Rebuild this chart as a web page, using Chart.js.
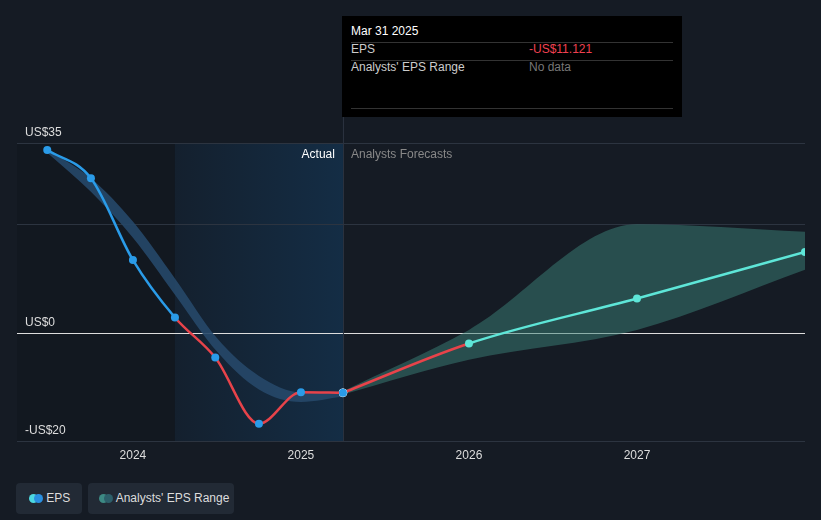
<!DOCTYPE html><html><head><meta charset="utf-8">
<script src="https://cdn.jsdelivr.net/npm/chart.js@4"></script>
<style>
body{margin:0;background:#151b24;font-family:Arial,"Liberation Sans",sans-serif;}
#w{position:relative;width:821px;height:520px;}
#tip{position:absolute;left:342px;top:16px;width:340px;height:101px;background:#000;color:#ccc;font-size:12px;}
.r{position:absolute;left:9px;right:9px;height:18px;border-bottom:1px solid #333;}
.leg{position:absolute;top:483px;height:31px;background:#222a35;border-radius:4px;color:#ddd;font-size:12px;line-height:31px;}
.dot{display:inline-block;width:9px;height:9px;border-radius:5px;vertical-align:middle;}
</style></head><body><div id="w"><canvas id="c" width="821" height="520"></canvas>
<div id="tip">
<div class="r" style="top:8px;color:#fff;font-size:12px;">Mar 31 2025</div>
<div class="r" style="top:26px;">EPS<span style="position:absolute;left:178px;color:#f04050">-US$11.121</span></div>
<div class="r" style="top:44px;border:none">Analysts' EPS Range<span style="position:absolute;left:178px;color:#777">No data</span></div>
<div class="r" style="top:75px;height:17px"></div>
</div>
<div class="leg" style="left:16px;width:66px;"><span style="margin-left:13px"><span class="dot" style="background:#4dd8e0"></span><span class="dot" style="background:#2a8fe0;margin-left:-4px"></span></span> EPS</div>
<div class="leg" style="left:88px;width:146px;"><span style="margin-left:11px"><span class="dot" style="background:#3d8a84"></span><span class="dot" style="background:#2d5f6a;margin-left:-4px"></span></span> Analysts' EPS Range</div>
</div>
<script>
const pastX=[2023.49,2023.75,2024.0,2024.25,2024.49,2024.75,2025.0,2025.25];
const pastEPS=[33.7,28.5,13.4,2.8,-4.6,-16.8,-11.0,-11.1];
const fcX=[2025.25,2026.0,2027.0,2028.0];
const fcEPS=[-11.1,-2.0,6.3,14.9];
const bandPastX=[2023.49,2023.75,2024.0,2024.25,2024.5,2024.75,2025.0,2025.25];
const bandPastHi=[33.8,28.5,20.5,10,-1,-8,-11,-10.8];
const bandPastLo=[33.2,26,17.5,7,-3.5,-10.5,-12.8,-11.8];
const bandFcX=[2025.25,2026.0,2027.0,2028.0];
const bandFcHi=[-10.8,0.5,20,18.6];
const bandFcLo=[-11.4,-5,0.5,11.6];
const yTicks=[-20,0,20,35];
const yLabels={"35":"US$35","0":"US$0","-20":"-US$20"};
const xTicks=[2024,2025,2026,2027];
const xs=(a,b)=>a.map((x,i)=>({x,y:b[i]}));
const bg={id:'bg',beforeDraw(ch){const {ctx,chartArea:a,scales:{x,y}}=ch;
 const x1=x.getPixelForValue(2024.25),x2=x.getPixelForValue(2025.25);
 ctx.save();ctx.fillStyle='#121820';ctx.fillRect(a.left,a.top,x1-a.left,a.bottom-a.top);
 const g=ctx.createLinearGradient(x1,0,x2,0);g.addColorStop(0,'#14202e');g.addColorStop(1,'#142d45');
 ctx.fillStyle=g;ctx.fillRect(x1,a.top,x2-x1,a.bottom-a.top);
 ctx.lineWidth=1;
 yTicks.forEach(t=>{const p=Math.round(y.getPixelForValue(t))+.5;ctx.strokeStyle=t===0?'#ddd':'#2c3440';ctx.beginPath();ctx.moveTo(a.left,p);ctx.lineTo(a.right,p);ctx.stroke();});
 ctx.fillStyle='#ddd';ctx.font='12px Arial';ctx.textBaseline='bottom';
 yTicks.forEach(t=>{if(yLabels[t]){ctx.fillText(yLabels[t],25,y.getPixelForValue(t)-4);}});
 ctx.textAlign='center';ctx.textBaseline='top';
 xTicks.forEach(t=>ctx.fillText(String(t),x.getPixelForValue(t),a.bottom+9));
 ctx.strokeStyle='#2c3440';ctx.beginPath();ctx.moveTo(x2+.5,16);ctx.lineTo(x2+.5,a.bottom);ctx.stroke();
 ctx.textAlign='right';ctx.fillStyle='#fff';ctx.fillText('Actual',x2-8,a.top+6);
 ctx.textAlign='left';ctx.fillStyle='#888';ctx.fillText('Analysts Forecasts',x2+8,a.top+6);
 ctx.restore();}};
const L={type:'line',pointRadius:0,borderWidth:0,tension:0.4,cubicInterpolationMode:'monotone',order:5};
new Chart(document.getElementById('c'),{type:'line',data:{datasets:[
 {...L,data:xs(bandPastX,bandPastHi)},
 {...L,data:xs(bandPastX,bandPastLo),fill:'-1',backgroundColor:'rgba(38,72,105,0.9)'},
 {...L,data:xs(bandFcX,bandFcHi)},
 {...L,data:xs(bandFcX,bandFcLo),fill:'-1',backgroundColor:'rgba(60,130,120,0.5)'},
 {type:'line',order:0,data:xs(pastX,pastEPS),borderWidth:2.5,tension:0.4,cubicInterpolationMode:'monotone',pointRadius:4,pointBorderWidth:0,
  pointBackgroundColor:'#2a9be8',
  segment:{borderColor:c=>c.p0DataIndex<3?'#2a9be8':'#e8434a'},borderColor:'#2a9be8'},
 {type:'line',order:0,data:xs(fcX,fcEPS),borderWidth:2.5,tension:0.4,cubicInterpolationMode:'monotone',
  pointRadius:4,pointBackgroundColor:c=>c.dataIndex===0?'#2a9be8':'#5ee6d8',pointBorderColor:c=>c.dataIndex===0?'#fff':'#5ee6d8',pointBorderWidth:c=>c.dataIndex===0?1:0,
  segment:{borderColor:c=>c.p0DataIndex<1?'#e8434a':'#5ee6d8'}}
]},options:{responsive:false,animation:false,layout:{padding:{left:17,right:16,top:143,bottom:79}},
 plugins:{legend:{display:false},tooltip:{enabled:false}},
 scales:{x:{type:'linear',min:2023.31,max:2028,display:false},y:{min:-20,max:35,display:false}}},plugins:[bg]});
</script></body></html>
